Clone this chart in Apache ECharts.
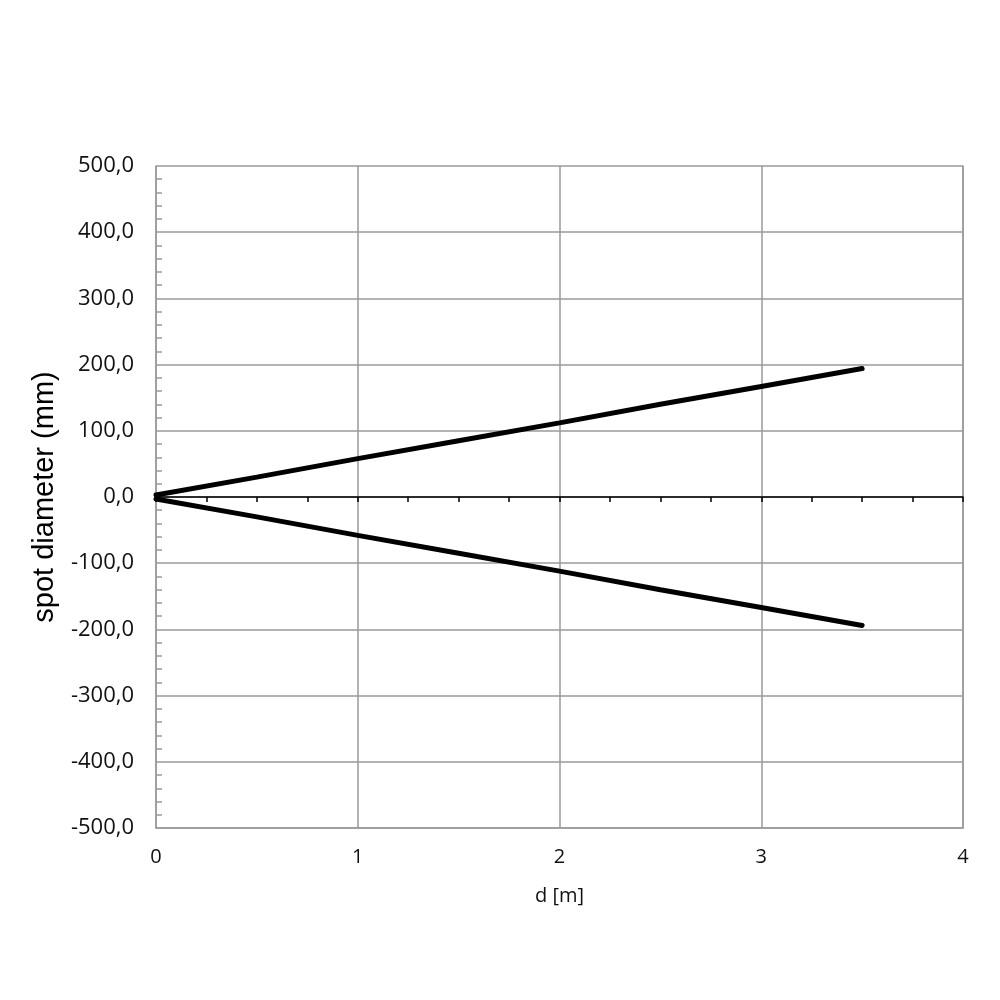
<!DOCTYPE html>
<html><head><meta charset="utf-8">
<script src="https://cdn.jsdelivr.net/npm/echarts@6/dist/echarts.min.js"></script>
<style>html,body{margin:0;padding:0;background:#fff}#c{width:1000px;height:1000px}</style>
</head><body><div id="c"></div>
<script>
var distances = [0, 0.5, 1, 1.5, 2, 2.5, 3, 3.5];
var upperEdge = [3, 30, 58, 85, 112, 140, 167, 194];
var lowerEdge = [-3, -30, -58, -85, -112, -140, -167, -194];
var xTitle = 'd [m]';
var yTitle = 'spot diameter (mm)';

var chart = echarts.init(document.getElementById('c'), null, {renderer: 'canvas'});
var gridColor = '#9a9a9a';
var font = '"Open Sans", sans-serif';
chart.setOption({
  animation: false,
  backgroundColor: '#fff',
  grid: {left: 156, right: 37, top: 166, bottom: 172, show: false},
  xAxis: [{
    type: 'value', min: 0, max: 4, interval: 1, position: 'bottom',
    axisLine: {onZero: false, show: true, lineStyle: {color: gridColor, width: 1.5}},
    axisTick: {show: false},
    splitLine: {show: true, lineStyle: {color: gridColor, width: 1.5}},
    axisLabel: {color: '#111', fontSize: 20, fontFamily: font, margin: 19},
    name: xTitle, nameLocation: 'middle', nameGap: 58,
    nameTextStyle: {color: '#111', fontSize: 20, fontFamily: font}
  }, {
    type: 'value', min: 0, max: 4, interval: 0.25,
    axisLine: {onZero: true, show: true, lineStyle: {color: '#000', width: 1.5}},
    axisTick: {show: true, inside: true, length: 5, lineStyle: {color: '#000', width: 1.5}},
    splitLine: {show: false},
    axisLabel: {show: false}
  }],
  yAxis: [{
    type: 'value', min: -500, max: 500, interval: 100,
    axisLine: {show: true, onZero: false, lineStyle: {color: gridColor, width: 1.5}},
    axisTick: {show: false},
    splitLine: {show: true, lineStyle: {color: gridColor, width: 1.5}},
    axisLabel: {color: '#111', fontSize: 22, fontFamily: font, margin: 22,
      formatter: function (v) { return v.toFixed(1).replace('.', ','); }},
    name: yTitle, nameLocation: 'middle', nameGap: 97,
    nameTextStyle: {color: '#000', fontSize: 29, fontFamily: '"Liberation Sans", Arial, sans-serif'}
  }, {
    type: 'value', min: -500, max: 500, interval: 100, position: 'right', offset: -807,
    axisLine: {show: false, onZero: false},
    axisTick: {show: false},
    minorTick: {show: true, splitNumber: 5, length: 6, lineStyle: {color: gridColor, width: 1.5}},
    axisLabel: {show: false}, splitLine: {show: false}
  }, {
    type: 'value', min: -500, max: 500, interval: 100, position: 'right',
    axisLine: {show: true, onZero: false, lineStyle: {color: gridColor, width: 1.5}},
    axisTick: {show: false}, axisLabel: {show: false}, splitLine: {show: false}
  }],
  series: [{
    type: 'line', xAxisIndex: 0, yAxisIndex: 0, symbol: 'none',
    data: distances.map(function (d, i) { return [d, upperEdge[i]]; }),
    lineStyle: {color: '#000', width: 5, cap: 'round'}
  }, {
    type: 'line', xAxisIndex: 0, yAxisIndex: 0, symbol: 'none',
    data: distances.map(function (d, i) { return [d, lowerEdge[i]]; }),
    lineStyle: {color: '#000', width: 5, cap: 'round'}
  }]
});
</script></body></html>
